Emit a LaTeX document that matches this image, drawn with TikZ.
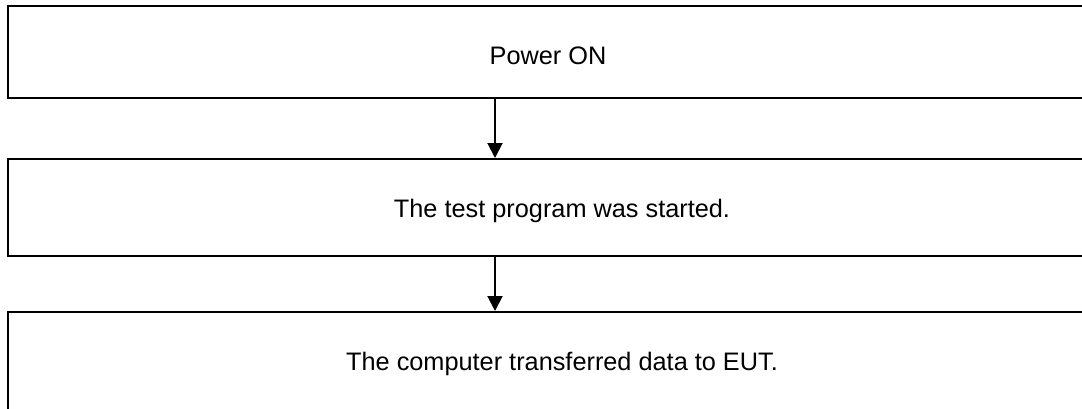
\documentclass[tikz,border=0pt]{standalone}
\usepackage{fontspec}
\setmainfont{Liberation Sans}
\usetikzlibrary{arrows.meta}
\begin{document}
\begin{tikzpicture}[x=1pt,y=-1pt,
  stagebox/.style={draw=black,line width=2pt,rectangle,inner sep=0pt},
  caption/.style={anchor=base,inner sep=0pt,font=\fontsize{25.3}{30}\selectfont},
  flow/.style={line width=2pt,-{Triangle[width=15pt,length=15pt]}}]
  \useasboundingbox (0,0) rectangle (1082,408);
  \clip (0,0) rectangle (1082,408);
  % the three stages, wider than the page on the right
  \node[stagebox,minimum width=1092pt,minimum height=92pt] (b1) at (554,52) {};
  \node[stagebox,minimum width=1092pt,minimum height=97pt] (b2) at (554,207.5) {};
  \node[stagebox,minimum width=1092pt,minimum height=128pt] (b3) at (554,376) {};
  % labels
  \node[caption] (t1) at (548,64) {Power ON};
  \node[caption] (t2) at (562,217) {The test program was started.};
  \node[caption] (t3) at (562,370) {The computer transferred data to EUT.};
  % connectors
  \coordinate (ax) at (495,0);
  \draw[flow] (b1.south -| ax) -- (b2.north -| ax);
  \draw[flow] (b2.south -| ax) -- (b3.north -| ax);
\end{tikzpicture}
\end{document}
